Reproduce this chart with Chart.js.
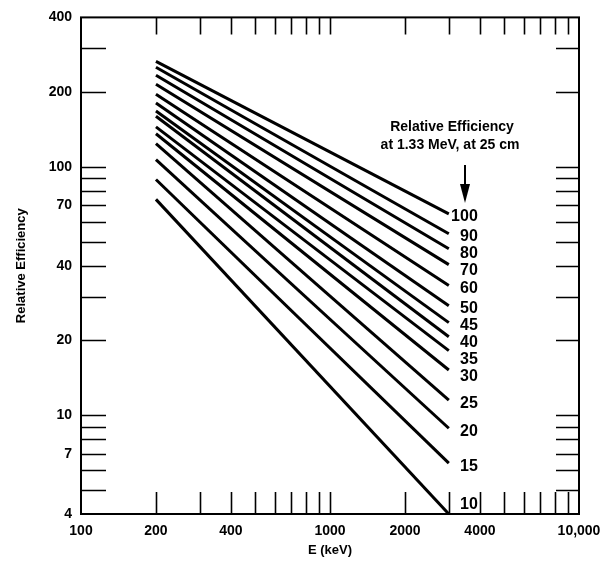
<!DOCTYPE html>
<html lang="en">
<head>
    <meta charset="UTF-8">
    <script src="https://cdn.jsdelivr.net/npm/chart.js"></script>
    <title>Relative Efficiency vs Energy</title>
    <style>
        html, body { margin: 0; padding: 0; background: #fff; }
        #wrap { width: 615px; height: 565px; }
    </style>
</head>
<body>
<div id="wrap"><canvas id="effChart"></canvas></div>

<script>
    // energies where every curve starts and ends (keV)
    var energies = [200, 3000];
    // relative efficiency class of each detector (curve label)
    var effClasses = [100, 90, 80, 70, 60, 50, 45, 40, 35, 30, 25, 20, 15, 10];
    // relative efficiency read at 200 keV and at 3000 keV
    var effAtStart = [266, 252, 234, 215, 196, 181, 168, 160, 145, 136, 124, 107, 89, 74];
    var effAtEnd = [64.7, 53.8, 46.8, 40.4, 33.3, 27.6, 23.6, 20.7, 18.2, 15.2, 11.5, 8.86, 6.41, 4.0];

    // axis labels
    var xTickLabels = [100, 200, 400, 1000, 2000, 4000, 10000];
    var yTickLabels = [4, 7, 10, 20, 40, 70, 100, 200, 400];
    var xMinorTicks = [100, 200, 300, 400, 500, 600, 700, 800, 900, 1000, 2000, 3000, 4000, 5000, 6000, 7000, 8000, 9000, 10000];
    var yMinorTicks = [4, 5, 6, 7, 8, 9, 10, 20, 30, 40, 50, 60, 70, 80, 90, 100, 200, 300, 400];

    var FONT = "'Liberation Sans', Arial, Helvetica, sans-serif";

    var datasets = effClasses.map(function (cls, i) {
        return {
            label: String(cls),
            data: [
                { x: energies[0], y: effAtStart[i] },
                { x: energies[1], y: effAtEnd[i] }
            ],
            borderColor: '#000',
            borderWidth: 3,
            pointRadius: 0,
            fill: false
        };
    });

    // frame, inward tick marks, curve labels and the note with its arrow
    var framePlugin = {
        id: 'framePlugin',
        afterDraw: function (chart) {
            var ctx = chart.ctx;
            var a = chart.chartArea;
            var xs = chart.scales.x, ys = chart.scales.y;
            ctx.save();
            ctx.strokeStyle = '#000';

            ctx.lineWidth = 1.6;
            xMinorTicks.forEach(function (v) {
                if (v <= xs.min || v >= xs.max) return;
                var px = Math.round(xs.getPixelForValue(v)) + 0.5;
                ctx.beginPath();
                ctx.moveTo(px, a.bottom); ctx.lineTo(px, a.bottom - 22);
                ctx.moveTo(px, a.top); ctx.lineTo(px, a.top + 17);
                ctx.stroke();
            });
            yMinorTicks.forEach(function (v) {
                if (v <= ys.min || v >= ys.max) return;
                var py = Math.round(ys.getPixelForValue(v)) + 0.5;
                ctx.beginPath();
                ctx.moveTo(a.left, py); ctx.lineTo(a.left + 25, py);
                ctx.moveTo(a.right, py); ctx.lineTo(a.right - 23, py);
                ctx.stroke();
            });

            ctx.lineWidth = 2;
            ctx.strokeRect(a.left, a.top, a.right - a.left, a.bottom - a.top);

            // curve labels at the right end of each line
            ctx.fillStyle = '#000';
            ctx.font = 'bold 16px ' + FONT;
            ctx.textAlign = 'right';
            ctx.textBaseline = 'middle';
            var lastY = -100;
            effClasses.forEach(function (cls, i) {
                var ex = xs.getPixelForValue(energies[1]);
                var ey = ys.getPixelForValue(effAtEnd[i]) + 3;
                if (ey < lastY + 17) ey = lastY + 17;
                if (ey > a.bottom - 9) ey = a.bottom - 9;
                lastY = ey;
                ctx.fillText(String(cls), ex + 29, ey);
            });

            // note
            ctx.textAlign = 'center';
            ctx.font = 'bold 14px ' + FONT;
            ctx.fillText('Relative Efficiency', 452, 127);
            ctx.fillText('at 1.33 MeV, at 25 cm', 450, 145);

            // arrow
            ctx.lineWidth = 2;
            ctx.beginPath();
            ctx.moveTo(465, 165); ctx.lineTo(465, 188);
            ctx.stroke();
            ctx.beginPath();
            ctx.moveTo(460, 184); ctx.lineTo(470, 184); ctx.lineTo(465, 203);
            ctx.closePath();
            ctx.fill();
            ctx.restore();
        }
    };

    new Chart(document.getElementById('effChart').getContext('2d'), {
        type: 'line',
        data: { datasets: datasets },
        plugins: [framePlugin],
        options: {
            responsive: true,
            maintainAspectRatio: false,
            animation: false,
            layout: { padding: { left: 0, top: 17, right: 36, bottom: 0 } },
            plugins: {
                legend: { display: false },
                tooltip: { enabled: false }
            },
            scales: {
                x: {
                    type: 'logarithmic',
                    min: 100,
                    max: 10000,
                    grid: { display: false, drawTicks: false },
                    border: { display: false },
                    afterBuildTicks: function (scale) {
                        scale.ticks = xMinorTicks.map(function (v) { return { value: v }; });
                    },
                    afterFit: function (scale) { scale.height = 51; },
                    ticks: {
                        autoSkip: false,
                        maxRotation: 0,
                        padding: 9,
                        color: '#000',
                        font: { family: FONT, size: 14, weight: 'bold' },
                        callback: function (v) {
                            if (xTickLabels.indexOf(v) < 0) return '';
                            return v === 10000 ? '10,000' : String(v);
                        }
                    },
                    title: {
                        display: true,
                        text: 'E (keV)',
                        color: '#000',
                        font: { family: FONT, size: 13, weight: 'bold' },
                        padding: { top: 0, bottom: 7 }
                    }
                },
                y: {
                    type: 'logarithmic',
                    min: 4,
                    max: 400,
                    grid: { display: false, drawTicks: false },
                    border: { display: false },
                    afterBuildTicks: function (scale) {
                        scale.ticks = yMinorTicks.map(function (v) { return { value: v }; });
                    },
                    afterFit: function (scale) { scale.width = 81; },
                    ticks: {
                        autoSkip: false,
                        padding: 9,
                        color: '#000',
                        font: { family: FONT, size: 14, weight: 'bold' },
                        callback: function (v) {
                            return yTickLabels.indexOf(v) < 0 ? '' : String(v);
                        }
                    },
                    title: {
                        display: true,
                        text: 'Relative Efficiency',
                        color: '#000',
                        font: { family: FONT, size: 13, weight: 'bold' },
                        padding: { top: 14, bottom: 0 }
                    }
                }
            }
        }
    });
</script>
</body>
</html>
